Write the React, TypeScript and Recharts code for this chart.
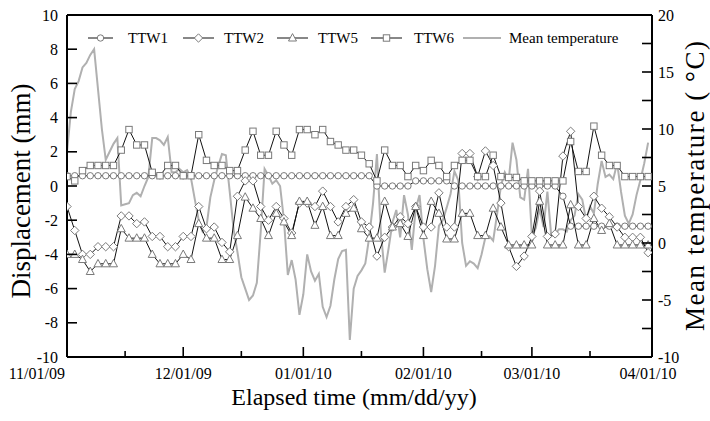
import React from "react";
import { ComposedChart, Line, XAxis, YAxis, ReferenceLine } from "recharts";

const FONT = '"Liberation Serif", "Times New Roman", serif';
const MARK = "#7a7a7a";

// plot frame (layout only)
const PLOT_LEFT = 67;
const PLOT_RIGHT = 652;
const PLOT_BOTTOM = 357;

// elapsed days since 11/01/09
const DISP_DAYS = [
  0, 2, 4, 6, 8, 10, 12, 14, 16, 18, 20, 22, 24, 26, 28, 30, 32, 34, 36, 38,
  40, 42, 44, 46, 48, 50, 52, 54, 56, 58, 60, 62, 64, 66, 68, 70, 72, 74, 76, 78,
  80, 82, 84, 86, 88, 90, 92, 94, 96, 98, 100, 102, 104, 106, 108, 110, 112, 114, 116, 118,
  120, 122, 124, 126, 128, 130, 132, 134, 136, 138, 140, 142, 144, 146, 148, 150,
];

const TTW1 = [
  0.6, 0.6, 0.6, 0.6, 0.6, 0.6, 0.6, 0.6, 0.6, 0.6,
  0.6, 0.6, 0.6, 0.6, 0.6, 0.6, 0.6, 0.6, 0.6, 0.6,
  0.6, 0.6, 0.6, 0.6, 0.6, 0.6, 0.6, 0.6, 0.6, 0.6,
  0.6, 0.6, 0.6, 0.6, 0.6, 0.6, 0.6, 0.6, 0.6, 0.6,
  0, 0, 0, 0, 0, 0.3, 0.3, 0.3, 0.3, 0.3,
  0, 0, 0, 0, 0, 0, 0, 0, 0, 0,
  0, 0, 0, 0, -0.6, -2.35, -2.35, -2.35, -2.35, -2.35,
  -2.35, -2.35, -2.35, -2.35, -2.35, -2.35,
];

const TTW2 = [
  -1.2, -2.6, -4.0, -4.0, -3.55, -3.55, -3.55, -1.75, -1.75, -2.2,
  -2.1, -2.95, -2.95, -3.55, -3.55, -2.95, -2.95, -1.2, -2.5, -2.4,
  -3.3, -3.85, -0.6, 0.3, 0.3, -1.2, -2.0, -1.2, -1.9, -2.75,
  -1.0, -1.0, -1.2, -0.3, -1.2, -2.1, -1.2, -0.8, -2.1, -2.4,
  -4.1, -3.0, -2.4, -1.8, -2.2, -1.2, -2.4, -2.4, -0.4, -2.4,
  -2.4, 1.9, 1.9, 0.55, 2.05, 1.2, -1.0, -3.55, -4.7, -4.1,
  -2.95, -0.3, -2.95, -2.8, 1.75, 3.2, -1.2, -1.9, -0.6, -1.3,
  -1.8, -2.4, -3.0, -3.0, -3.0, -3.9,
];

const TTW5 = [
  -4.0, -4.0, -4.3, -5.0, -4.55, -4.55, -4.55, -2.5, -3.05, -3.05,
  -3.05, -4.0, -4.55, -4.55, -4.55, -4.0, -4.3, -2.2, -3.05, -3.05,
  -4.3, -4.3, -2.9, -0.65, -1.3, -1.9, -2.9, -1.6, -2.1, -2.9,
  -0.9, -0.9, -2.3, -1.2, -2.9, -2.9, -1.6, -1.3, -2.5, -3.05,
  -3.05, -0.9, -2.4, -2.2, -2.95, -1.2, -2.9, -0.9, -1.6, -3.1,
  -3.1, -1.6, -1.6, -2.9, -2.9, -1.3, -2.4, -3.45, -3.45, -3.45,
  -3.45, -0.9, -3.45, -3.45, -3.45, -1.1, -3.45, -3.45, -1.9, -2.6,
  -2.2, -3.45, -3.45, -3.45, -3.45, -3.45,
];

const TTW6 = [
  0.55, 0.3, 0.9, 1.2, 1.2, 1.2, 1.2, 2.1, 3.3, 2.4,
  2.4, 0.8, 0.6, 1.2, 1.2, 0.6, 0.6, 3.0, 1.5, 1.2,
  1.2, 0.9, 0.9, 2.1, 3.2, 1.8, 1.8, 3.2, 2.4, 1.8,
  3.3, 3.3, 3.0, 3.3, 2.6, 2.4, 2.1, 2.1, 1.8, 1.3,
  0.3, 2.1, 1.2, 1.2, 0.55, 1.2, 0.9, 1.5, 1.2, 0.55,
  1.2, 1.5, 1.5, 0.55, 0.55, 1.8, 0.55, 0.5, 0.5, 0.3,
  0.3, 0.3, 0.3, 0.3, 0.3, 2.6, 0.85, 0.85, 3.5, 1.8,
  1.2, 1.2, 0.55, 0.55, 0.55, 0.55,
];

// daily mean temperature (°C), day 0 = 11/01/09
const TEMP = [
  8.0, 11.5, 13.5, 14.2, 15.4, 15.8, 16.5, 17.0, 13.5, 10.0,
  7.3, 8.0, 8.7, 9.2, 3.3, 3.4, 3.5, 4.2, 4.4, 4.1,
  5.0, 5.8, 9.2, 9.2, 9.0, 8.6, 9.3, 6.2, 6.2, 6.5,
  6.2, 6.4, 5.7, 3.8, 2.0, 1.0, 1.4, 4.0, 5.5, 6.7,
  7.8, 7.7, 4.5, 1.2, -0.8, -3.0, -4.0, -5.0, -4.6, -3.5,
  1.0, 6.5, 5.9, 5.2, 5.5, 5.0, 2.0, -2.8, -1.5, -3.2,
  -6.3, -4.5, -1.0, -2.5, -3.3, -2.7, -5.6, -6.5, -5.5, -3.2,
  -1.4, -0.7, -0.6, -8.5, -4.0, -2.9, -2.4, -1.8, 0.5, 3.5,
  7.8, 1.0, -2.6, -0.5, 1.8, 2.9, 0.5, 4.2, 2.5, -0.6,
  3.0, 4.2, 0.4, -2.3, -4.3, -2.0, 1.5, 2.0, 3.1, 4.3,
  6.3, 5.5, 0.0, -2.0, -1.6, -1.8, -2.2, -1.0, 0.5, 0.6,
  0.2, 2.5, 5.0, 6.2, 5.5, 8.8, 7.3, 4.0, 3.8, 6.5,
  0.6, 1.3, 3.0, 1.4, 4.5, 0.6, 0.8, 1.2, 1.2, 1.0,
  2.0, 2.4, 4.3, 3.8, 2.0, 3.2, 2.6, 5.2, 7.2, 5.8,
  6.0, 5.6, 7.0, 4.5, 2.4, 1.7, 2.5, 4.2, 5.5, 7.0, 8.8,
];

const X_TICKS = [0, 15, 30, 45, 61, 76, 92, 107, 120, 135, 151];
const X_LABELS: Record<number, string> = {
  0: "11/01/09",
  30: "12/01/09",
  61: "01/01/10",
  92: "02/01/10",
  120: "03/01/10",
  151: "04/01/10",
};
const LEFT_TICKS = [-10, -8, -6, -4, -2, 0, 2, 4, 6, 8, 10];
const RIGHT_TICKS = [-10, -7.5, -5, -2.5, 0, 2.5, 5, 7.5, 10, 12.5, 15, 17.5, 20];

const dispData = DISP_DAYS.map((day, i) => ({
  day,
  ttw1: TTW1[i],
  ttw2: TTW2[i],
  ttw5: TTW5[i],
  ttw6: TTW6[i],
}));
const tempData = TEMP.map((temp, day) => ({ day, temp }));

// ---- markers ----
function circleMark(cx: number, cy: number, key?: string) {
  return <circle key={key} cx={cx} cy={cy} r={3.2} fill="#fff" stroke={MARK} strokeWidth={1} />;
}
function diamondMark(cx: number, cy: number, key?: string) {
  const s = 4.2;
  return (
    <polygon
      key={key}
      points={`${cx},${cy - s} ${cx + s},${cy} ${cx},${cy + s} ${cx - s},${cy}`}
      fill="#fff"
      stroke={MARK}
      strokeWidth={1}
    />
  );
}
function triangleMark(cx: number, cy: number, key?: string) {
  return (
    <polygon
      key={key}
      points={`${cx},${cy - 4.4} ${cx + 4},${cy + 3} ${cx - 4},${cy + 3}`}
      fill="#fff"
      stroke={MARK}
      strokeWidth={1}
    />
  );
}
function squareMark(cx: number, cy: number, key?: string) {
  return (
    <rect key={key} x={cx - 3.2} y={cy - 3.2} width={6.4} height={6.4} fill="#fff" stroke={MARK} strokeWidth={1} />
  );
}

const dotOf =
  (fn: (cx: number, cy: number, key?: string) => React.ReactElement, name: string) =>
  (p: any) => {
    if (p.cx == null || p.cy == null) return <g key={`${name}-${p.index}`} />;
    return fn(p.cx, p.cy, `${name}-${p.index}`);
  };

// ---- ticks ----
function LeftTick(props: any) {
  const { y, payload } = props;
  return (
    <g>
      <line x1={PLOT_LEFT} x2={PLOT_LEFT + 10} y1={y} y2={y} stroke="#000" strokeWidth={1.6} />
      <text x={PLOT_LEFT - 9} y={y} dy={5.5} textAnchor="end" fontFamily={FONT} fontSize={16} fill="#000">
        {payload.value}
      </text>
    </g>
  );
}

function RightTick(props: any) {
  const { y, payload } = props;
  const v = payload.value;
  return (
    <g>
      <line x1={PLOT_RIGHT - 10} x2={PLOT_RIGHT} y1={y} y2={y} stroke="#000" strokeWidth={1.6} />
      {v % 5 === 0 && (
        <text x={PLOT_RIGHT + 6} y={y} dy={5.5} textAnchor="start" fontFamily={FONT} fontSize={16} fill="#000">
          {v}
        </text>
      )}
    </g>
  );
}

function BottomTick(props: any) {
  const { x, payload } = props;
  const label = X_LABELS[payload.value];
  const major = label !== undefined;
  const first = payload.value === 0;
  const last = payload.value === 151;
  return (
    <g>
      <line x1={x} x2={x} y1={PLOT_BOTTOM} y2={PLOT_BOTTOM - (major ? 10 : 6)} stroke="#000" strokeWidth={1.6} />
      {major && (
        <text
          x={first ? x - 2 : last ? x - 4 : x}
          y={PLOT_BOTTOM + 22}
          textAnchor={first ? "end" : "middle"}
          fontFamily={FONT}
          fontSize={16}
          fill="#000"
        >
          {label}
        </text>
      )}
    </g>
  );
}

// ---- legend overlay ----
function LegendOverlay() {
  const y = 38;
  const items = [
    { x1: 88, x2: 113, mark: circleMark, text: "TTW1", tx: 128 },
    { x1: 183, x2: 214, mark: diamondMark, text: "TTW2", tx: 224 },
    { x1: 277, x2: 308, mark: triangleMark, text: "TTW5", tx: 318 },
    { x1: 371, x2: 402, mark: squareMark, text: "TTW6", tx: 414 },
  ];
  return (
    <g>
      {items.map((it) => (
        <g key={it.text}>
          <line x1={it.x1} x2={it.x2} y1={y} y2={y} stroke="#111" strokeWidth={1} />
          {it.mark((it.x1 + it.x2) / 2, y)}
          <text x={it.tx} y={y + 5} fontFamily={FONT} fontSize={15} fill="#000">
            {it.text}
          </text>
        </g>
      ))}
      <line x1={463} x2={501} y1={y} y2={y} stroke="#b0b0b0" strokeWidth={2} />
      <text x={509} y={y + 5} fontFamily={FONT} fontSize={15} fill="#000">
        Mean temperature
      </text>
    </g>
  );
}

export default function App() {
  return (
    <div style={{ position: "absolute", left: 0, top: 0, width: 710, height: 421, background: "#fff" }}>
      <ComposedChart width={710} height={421} margin={{ top: 15, right: 0, bottom: 0, left: 0 }}>
        <XAxis
          dataKey="day"
          type="number"
          domain={[0, 151]}
          ticks={X_TICKS}
          interval={0}
          allowDataOverflow
          height={64}
          tickLine={false}
          axisLine={{ stroke: "#000", strokeWidth: 2 }}
          tick={<BottomTick />}
        />
        <YAxis
          yAxisId="left"
          type="number"
          domain={[-10, 10]}
          ticks={LEFT_TICKS}
          interval={0}
          allowDataOverflow
          width={67}
          tickLine={false}
          axisLine={{ stroke: "#000", strokeWidth: 2 }}
          tick={<LeftTick />}
        />
        <YAxis
          yAxisId="right"
          orientation="right"
          type="number"
          domain={[-10, 20]}
          ticks={RIGHT_TICKS}
          interval={0}
          allowDataOverflow
          width={58}
          tickLine={false}
          axisLine={{ stroke: "#000", strokeWidth: 2 }}
          tick={<RightTick />}
        />
        <ReferenceLine yAxisId="left" y={10} stroke="#000" strokeWidth={2} />
        <Line
          yAxisId="right"
          data={tempData}
          dataKey="temp"
          type="linear"
          stroke="#b0b0b0"
          strokeWidth={2}
          dot={false}
          isAnimationActive={false}
        />
        <Line
          yAxisId="left"
          data={dispData}
          dataKey="ttw1"
          type="linear"
          stroke="#111"
          strokeWidth={1}
          dot={dotOf(circleMark, "c")}
          isAnimationActive={false}
        />
        <Line
          yAxisId="left"
          data={dispData}
          dataKey="ttw2"
          type="linear"
          stroke="#111"
          strokeWidth={1}
          dot={dotOf(diamondMark, "d")}
          isAnimationActive={false}
        />
        <Line
          yAxisId="left"
          data={dispData}
          dataKey="ttw5"
          type="linear"
          stroke="#111"
          strokeWidth={1}
          dot={dotOf(triangleMark, "t")}
          isAnimationActive={false}
        />
        <Line
          yAxisId="left"
          data={dispData}
          dataKey="ttw6"
          type="linear"
          stroke="#111"
          strokeWidth={1}
          dot={dotOf(squareMark, "s")}
          isAnimationActive={false}
        />
      </ComposedChart>
      <svg
        width={710}
        height={421}
        style={{ position: "absolute", left: 0, top: 0, pointerEvents: "none" }}
      >
        <LegendOverlay />
        <text
          x={30}
          y={191}
          transform="rotate(-90 30 191)"
          textAnchor="middle"
          fontFamily={FONT}
          fontSize={27}
          fill="#000"
        >
          Displacement (mm)
        </text>
        <text
          x={704}
          y={186}
          transform="rotate(-90 704 186)"
          textAnchor="middle"
          fontFamily={FONT}
          fontSize={27}
          textLength={290}
          lengthAdjust="spacing"
          fill="#000"
        >
          Mean temperature ( °C)
        </text>
        <text x={354} y={405} textAnchor="middle" fontFamily={FONT} fontSize={24} fill="#000">
          Elapsed time (mm/dd/yy)
        </text>
      </svg>
    </div>
  );
}
